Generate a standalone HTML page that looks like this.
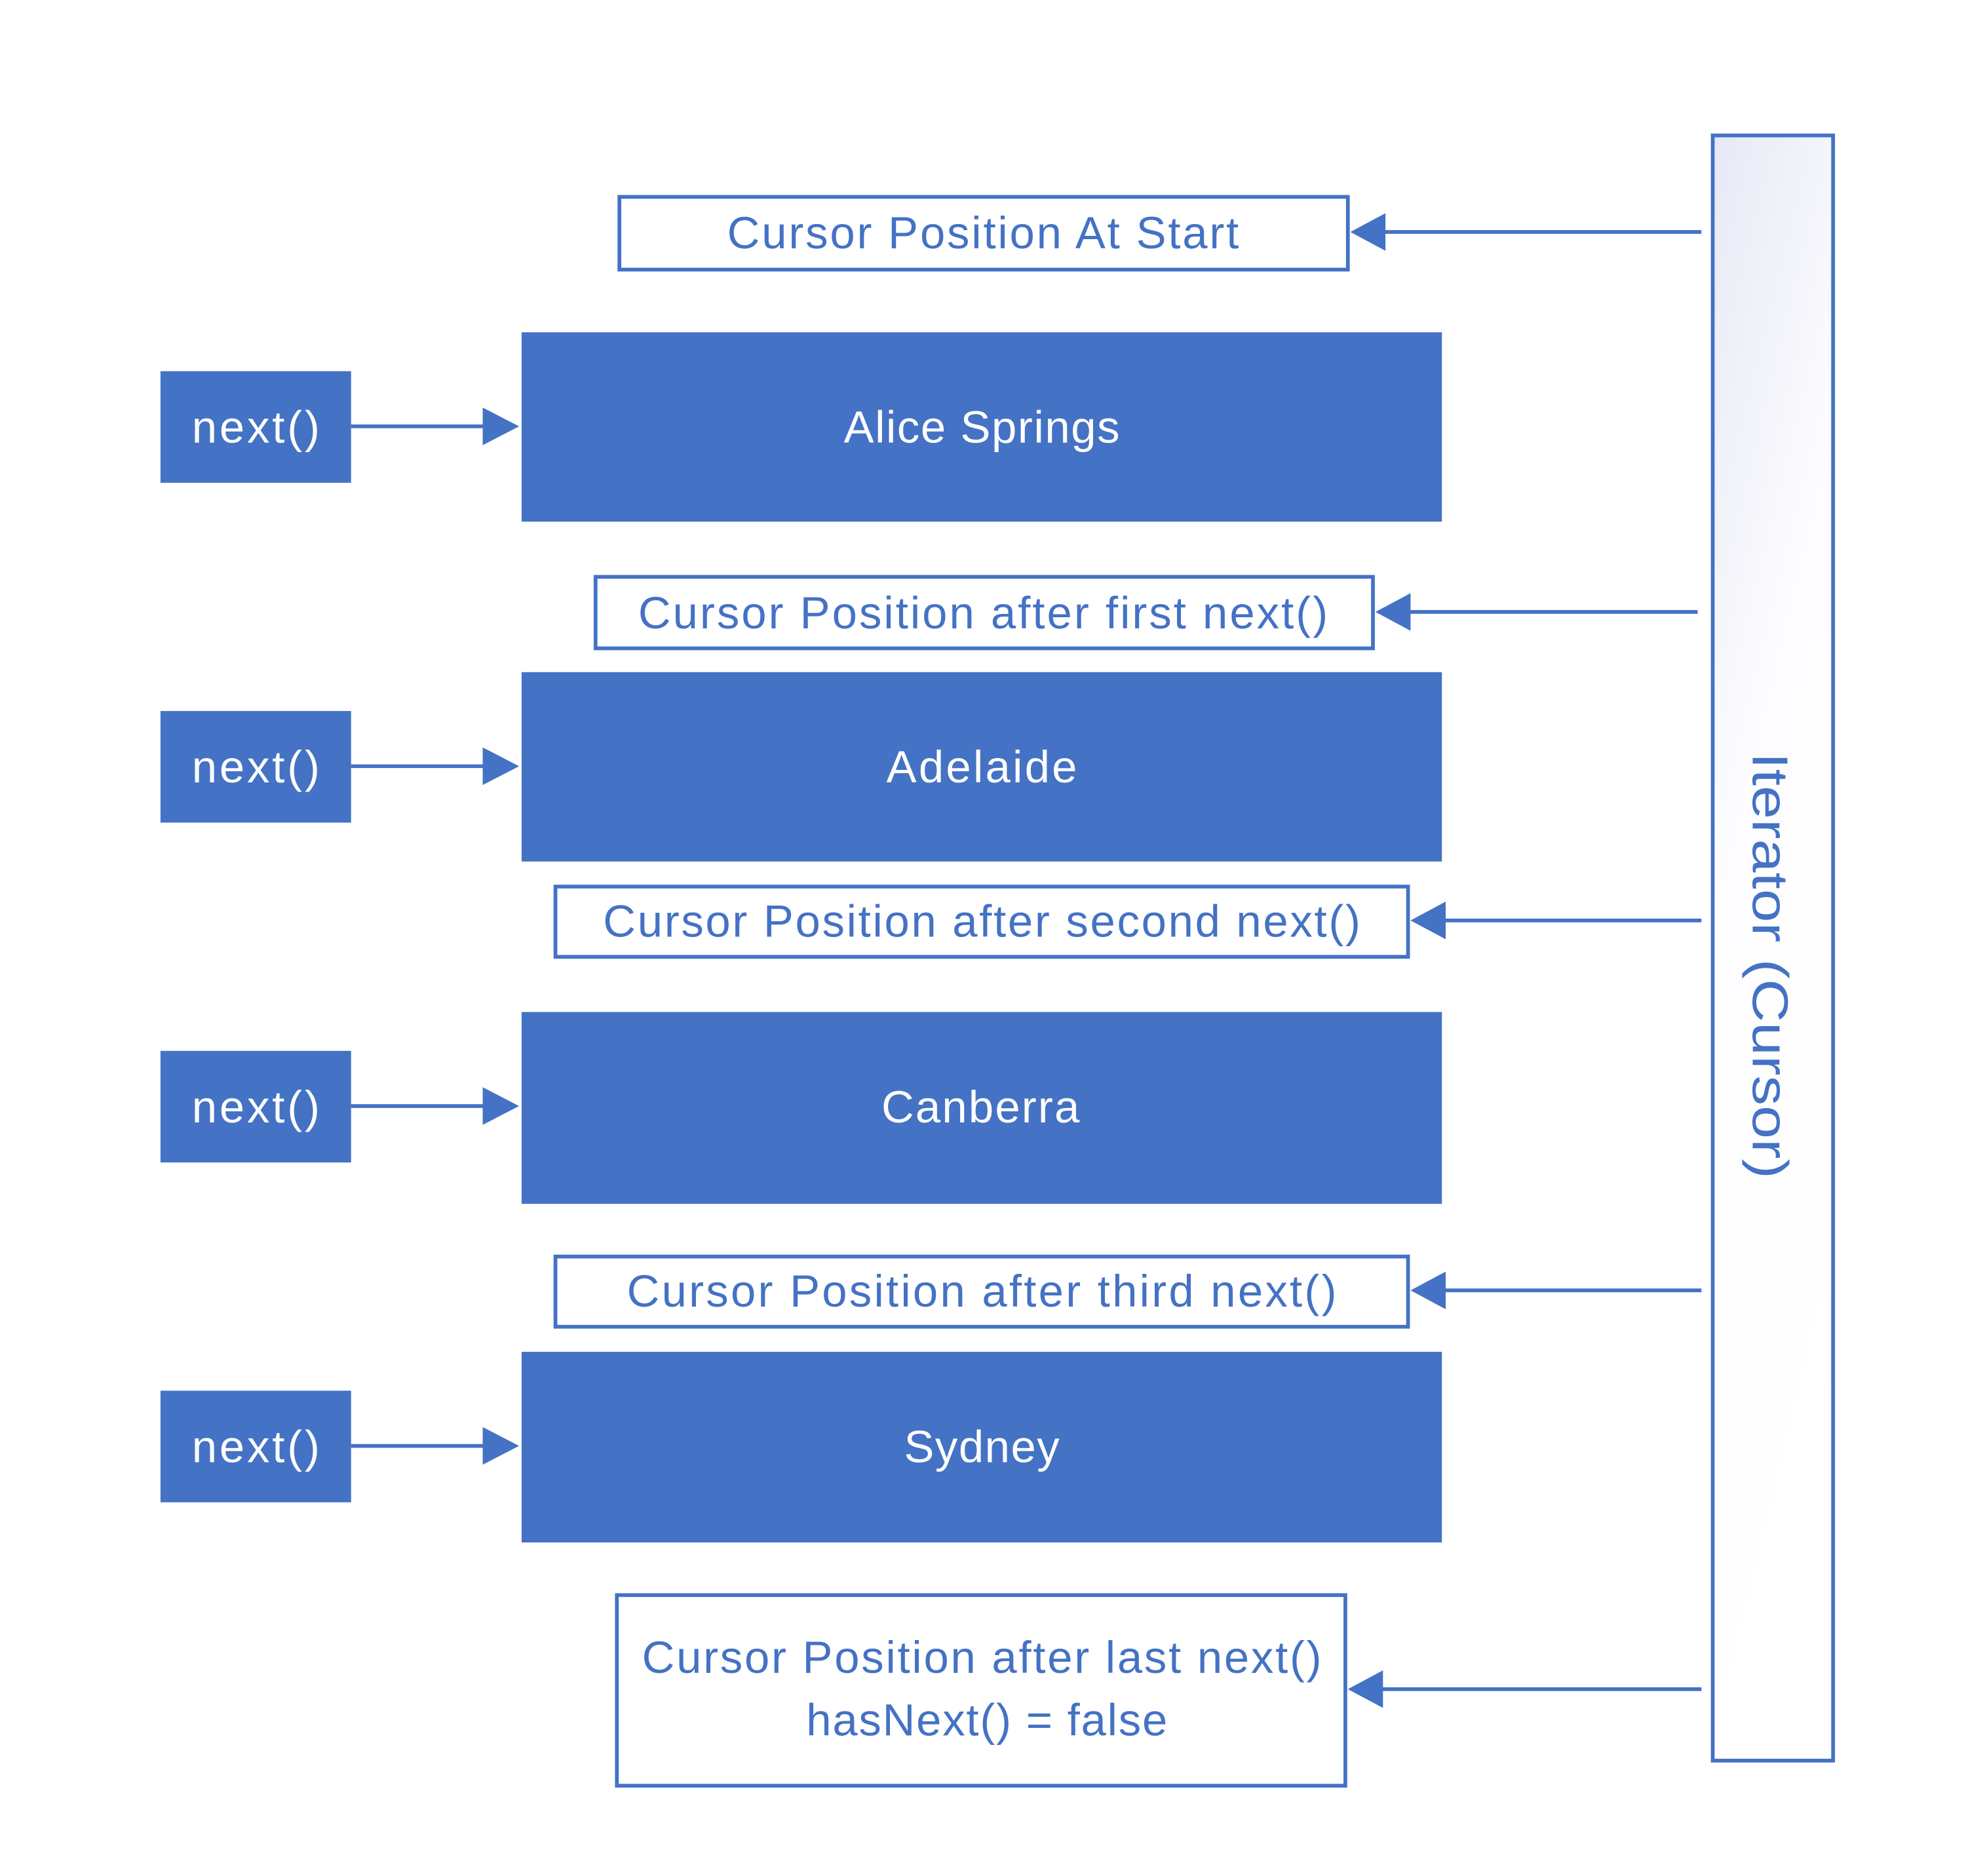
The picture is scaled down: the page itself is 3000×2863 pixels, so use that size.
<!DOCTYPE html>
<html><head><meta charset="utf-8"><style>html,body{margin:0;padding:0;background:#fff}svg{display:block}</style></head>
<body>
<svg width="3000" height="2863" viewBox="0 0 1568 1496" preserveAspectRatio="none" xmlns="http://www.w3.org/2000/svg" font-family="Liberation Sans, sans-serif">
<defs>
<linearGradient id="g" x1="0" y1="0" x2="0.3" y2="1"><stop offset="0" stop-color="#e6e9f5"/><stop offset="0.45" stop-color="#fdfdff"/><stop offset="1" stop-color="#ffffff"/></linearGradient>
</defs>
<rect x="1366" y="108" width="96" height="1296" fill="url(#g)" stroke="#4472C4" stroke-width="3"/>
<text transform="translate(1398,770) rotate(90)" text-anchor="middle" font-size="40" fill="#4472C4" textLength="340" lengthAdjust="spacingAndGlyphs">Iterator (Cursor)</text>
<g fill="#4472C4">
<rect x="416" y="265" width="734" height="151"/>
<rect x="416" y="536" width="734" height="151"/>
<rect x="416" y="807" width="734" height="153"/>
<rect x="416" y="1078" width="734" height="152"/>
<rect x="128" y="296" width="152" height="89"/>
<rect x="128" y="567" width="152" height="89"/>
<rect x="128" y="838" width="152" height="89"/>
<rect x="128" y="1109" width="152" height="89"/>
</g>
<g fill="none" stroke="#4472C4" stroke-width="3">
<rect x="494" y="157" width="581" height="58"/>
<rect x="475" y="460" width="620" height="57"/>
<rect x="443" y="707" width="680" height="56"/>
<rect x="443" y="1002" width="680" height="56"/>
<rect x="492" y="1272" width="581" height="152"/>
<line x1="280" y1="340" x2="388" y2="340"/>
<line x1="280" y1="611" x2="388" y2="611"/>
<line x1="280" y1="882" x2="388" y2="882"/>
<line x1="280" y1="1153" x2="388" y2="1153"/>
<line x1="1357" y1="185" x2="1100" y2="185"/>
<line x1="1354" y1="488" x2="1120" y2="488"/>
<line x1="1357" y1="734" x2="1148" y2="734"/>
<line x1="1357" y1="1029" x2="1148" y2="1029"/>
<line x1="1357" y1="1347" x2="1098" y2="1347"/>
</g>
<g fill="#4472C4">
<polygon points="385,325 414,340 385,355"/>
<polygon points="385,596 414,611 385,626"/>
<polygon points="385,867 414,882 385,897"/>
<polygon points="385,1138 414,1153 385,1168"/>
<polygon points="1105,170 1077,185 1105,200"/>
<polygon points="1125,473 1097,488 1125,503"/>
<polygon points="1153,719 1125,734 1153,749"/>
<polygon points="1153,1014 1125,1029 1153,1044"/>
<polygon points="1103,1332 1075,1347 1103,1362"/>
</g>
<g font-size="36" text-anchor="middle" fill="#fff" lengthAdjust="spacingAndGlyphs">
<text x="204" y="353" textLength="102">next()</text>
<text x="204" y="624" textLength="102">next()</text>
<text x="204" y="895" textLength="102">next()</text>
<text x="204" y="1166" textLength="102">next()</text>
<text x="783" y="353" textLength="220">Alice Springs</text>
<text x="783" y="624" textLength="152">Adelaide</text>
<text x="782" y="895" textLength="158">Canberra</text>
<text x="783" y="1166" textLength="124">Sydney</text>
</g>
<g font-size="36" text-anchor="middle" fill="#4472C4" lengthAdjust="spacingAndGlyphs">
<text x="784" y="198" textLength="408">Cursor Position At Start</text>
<text x="784" y="501" textLength="550">Cursor Position after first next()</text>
<text x="783" y="747" textLength="604">Cursor Position after second next()</text>
<text x="783" y="1042" textLength="566">Cursor Position after third next()</text>
<text x="783" y="1334" textLength="542">Cursor Position after last next()</text>
<text x="787" y="1384" textLength="288">hasNext() = false</text>
</g>
</svg>
</body></html>
